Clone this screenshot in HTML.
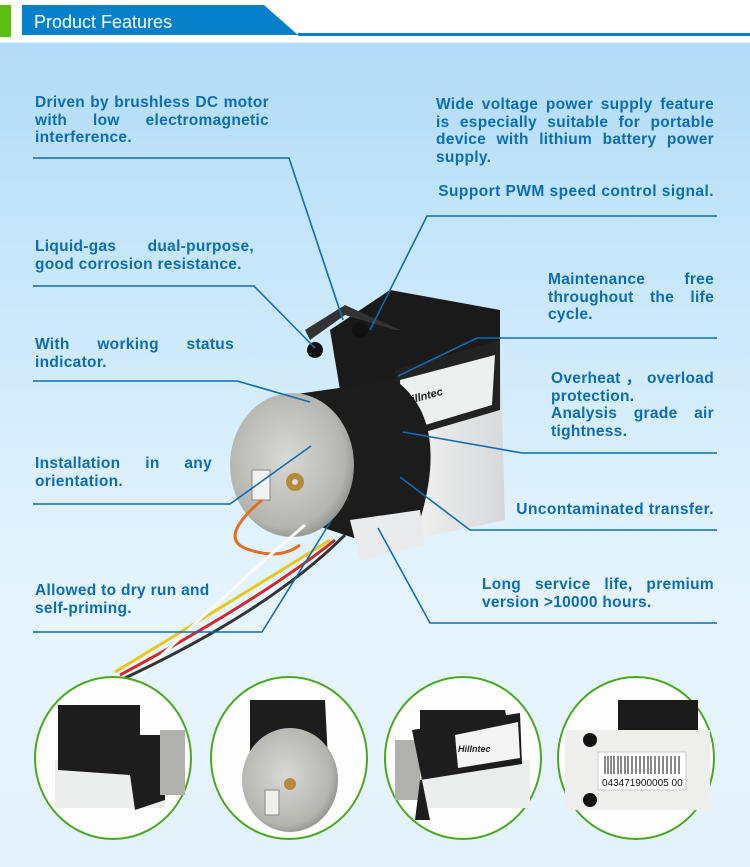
<!DOCTYPE html>
<html><head><meta charset="utf-8"><style>
html,body{margin:0;padding:0}
body{width:750px;height:867px;position:relative;overflow:hidden;font-family:"Liberation Sans",sans-serif;
background:linear-gradient(180deg,#fff 0,#fff 42px,#b2dcf8 43px,#c6e6fa 250px,#dcf0fc 480px,#e6f4fd 620px,#e4f2fc 867px)}
.t{position:absolute;color:#0b6db7;font-weight:bold;font-size:15.5px;line-height:17.5px;text-align:justify;text-align-last:left;letter-spacing:0.3px}
</style></head><body>
<svg width="750" height="867" style="position:absolute;left:0;top:0">
<defs>
<radialGradient id="disc" cx="0.45" cy="0.45" r="0.6"><stop offset="0" stop-color="#d8d8d4"/><stop offset="0.8" stop-color="#b5b5b0"/><stop offset="1" stop-color="#8a8a86"/></radialGradient>
<linearGradient id="wb" x1="0" x2="1"><stop offset="0" stop-color="#f4f4f2"/><stop offset="1" stop-color="#d6d8da"/></linearGradient>
</defs>
<rect x="0" y="5" width="11" height="32" fill="#5cbf0f"/>
<polygon points="22,5 264,5 298,35 22,35" fill="#0680c8"/>
<rect x="298" y="33" width="452" height="3" fill="#0680c8"/>
<text x="34" y="28" fill="#fff" font-size="18" font-family="Liberation Sans, sans-serif">Product Features</text>
<polygon points="400,350 500,340 505,520 410,540" fill="url(#wb)"/>
<polygon points="330,330 390,290 500,310 500,350 410,380 340,390" fill="#1a1a1a"/>
<polygon points="395,370 500,340 500,410 398,440" fill="#222"/>
<polygon points="400,380 495,355 492,405 402,432" fill="#eef0f0"/>
<text x="405" y="405" font-size="11" font-style="italic" font-weight="bold" fill="#222" transform="rotate(-15 405 405)">Hillntec</text>
<path d="M310,340 L345,315 L395,330 L400,330 L345,305 L305,330Z" fill="#333"/>
<circle cx="315" cy="350" r="8" fill="#111"/><circle cx="360" cy="330" r="8" fill="#111"/>
<path d="M290,395 L395,380 Q450,420 420,520 L360,540 L300,520Z" fill="#1c1c1c"/>
<polygon points="350,520 420,510 425,545 360,560" fill="#e8eaec"/>
<ellipse cx="292" cy="465" rx="62" ry="72" fill="url(#disc)"/>
<circle cx="295" cy="482" r="9" fill="#b48a3c"/><circle cx="295" cy="482" r="3" fill="#ddd"/>
<rect x="252" y="470" width="18" height="30" fill="#f2f2f0" stroke="#888"/>
<path d="M262,500 Q215,540 250,550 Q280,560 300,545" stroke="#e07020" stroke-width="3" fill="none"/>
<path d="M330,540 Q250,590 115,672" stroke="#e8c818" stroke-width="3" fill="none"/>
<path d="M335,540 Q260,600 120,675" stroke="#d22828" stroke-width="3" fill="none"/>
<path d="M305,525 Q240,580 140,676" stroke="#fafafa" stroke-width="3" fill="none"/>
<path d="M345,535 Q270,610 125,678" stroke="#333" stroke-width="3" fill="none"/>
<g stroke="#0b6db7" stroke-width="1.6" fill="none">
<polyline points="33,158 289,158 343,320"/>
<polyline points="33,286 254,286 315,348"/>
<polyline points="33,381 237,381 310,402"/>
<polyline points="33,504 230,504 311,446"/>
<polyline points="33,632 262,632 331,521"/>
<polyline points="717,216 427,216 370,330"/>
<polyline points="717,338 477,338 398,376"/>
<polyline points="717,453 522,453 403,432"/>
<polyline points="717,530 470,530 400,477"/>
<polyline points="717,623 430,623 378,528"/>
</g>
<g stroke="#4aa81c" stroke-width="2" fill="#fdfdfd">
<ellipse cx="113" cy="758" rx="78" ry="81"/>
<ellipse cx="289" cy="758" rx="78" ry="81"/>
<ellipse cx="463" cy="758" rx="78" ry="81"/>
<ellipse cx="636" cy="758" rx="78" ry="81"/>
</g>
<rect x="55" y="760" width="110" height="48" fill="#eceeee"/>
<path d="M58,705 L140,705 L140,735 L165,735 L165,800 L135,810 L130,775 L58,770Z" fill="#1d1d1d"/>
<rect x="160" y="730" width="25" height="65" fill="#b0b0ac"/>
<path d="M250,700 L325,700 L330,800 L250,800Z" fill="#1d1d1d"/>
<ellipse cx="290" cy="780" rx="48" ry="52" fill="url(#disc)"/>
<circle cx="290" cy="784" r="6" fill="#b48a3c"/>
<rect x="265" y="790" width="14" height="25" fill="#eee" stroke="#888"/>
<rect x="395" y="740" width="25" height="60" fill="#b0b0ac"/>
<rect x="420" y="760" width="110" height="48" fill="#eceeee"/>
<path d="M420,710 L505,710 L510,735 L420,755Z" fill="#1d1d1d"/>
<polygon points="412,730 520,713 522,764 420,780 415,820 430,820" fill="#1d1d1d"/>
<polygon points="455,735 518,722 520,758 458,768" fill="#f4f4f4"/>
<text x="458" y="752" font-size="9" font-weight="bold" font-style="italic" fill="#222">Hillntec</text>
<rect x="565" y="730" width="145" height="80" fill="#eeeeec"/>
<rect x="618" y="700" width="80" height="30" fill="#1a1a1a"/>
<rect x="598" y="752" width="88" height="38" fill="#fff" stroke="#ccc"/>
<g stroke="#111" stroke-width="1"><path d="M605,756v18M608,756v18M611,756v18M614,756v18M618,756v18M621,756v18M625,756v18M628,756v18M632,756v18M636,756v18M640,756v18M644,756v18M648,756v18M651,756v18M655,756v18M659,756v18M663,756v18M667,756v18M671,756v18M675,756v18M679,756v18"/></g>
<text x="602" y="786" font-size="10" fill="#111">043471900005 00</text>
<circle cx="590" cy="740" r="7" fill="#111"/><circle cx="590" cy="800" r="7" fill="#111"/>
</svg>
<div class="t" style="left:35px;top:94px;width:234px">Driven by brushless DC motor with low electromagnetic interference.</div>
<div class="t" style="left:35px;top:238px;width:219px">Liquid-gas dual-purpose, good corrosion resistance.</div>
<div class="t" style="left:35px;top:336px;width:199px">With working status indicator.</div>
<div class="t" style="left:35px;top:455px;width:177px">Installation in any orientation.</div>
<div class="t" style="left:35px;top:582px;width:190px;text-align:left">Allowed to dry run and self-priming.</div>
<div class="t" style="left:436px;top:96px;width:278px">Wide voltage power supply feature is especially suitable for portable device with lithium battery power supply.</div>
<div class="t" style="left:416px;top:183px;width:298px;text-align:right;text-align-last:right;letter-spacing:0.45px">Support PWM speed control signal.</div>
<div class="t" style="left:548px;top:271px;width:166px">Maintenance free throughout the life cycle.</div>
<div class="t" style="left:551px;top:370px;width:163px">Overheat，overload protection.<br>Analysis grade air tightness.</div>
<div class="t" style="left:490px;top:501px;width:224px;text-align:right;text-align-last:right;letter-spacing:0.45px">Uncontaminated transfer.</div>
<div class="t" style="left:482px;top:576px;width:232px">Long service life, premium version &gt;10000 hours.</div>
</body></html>
